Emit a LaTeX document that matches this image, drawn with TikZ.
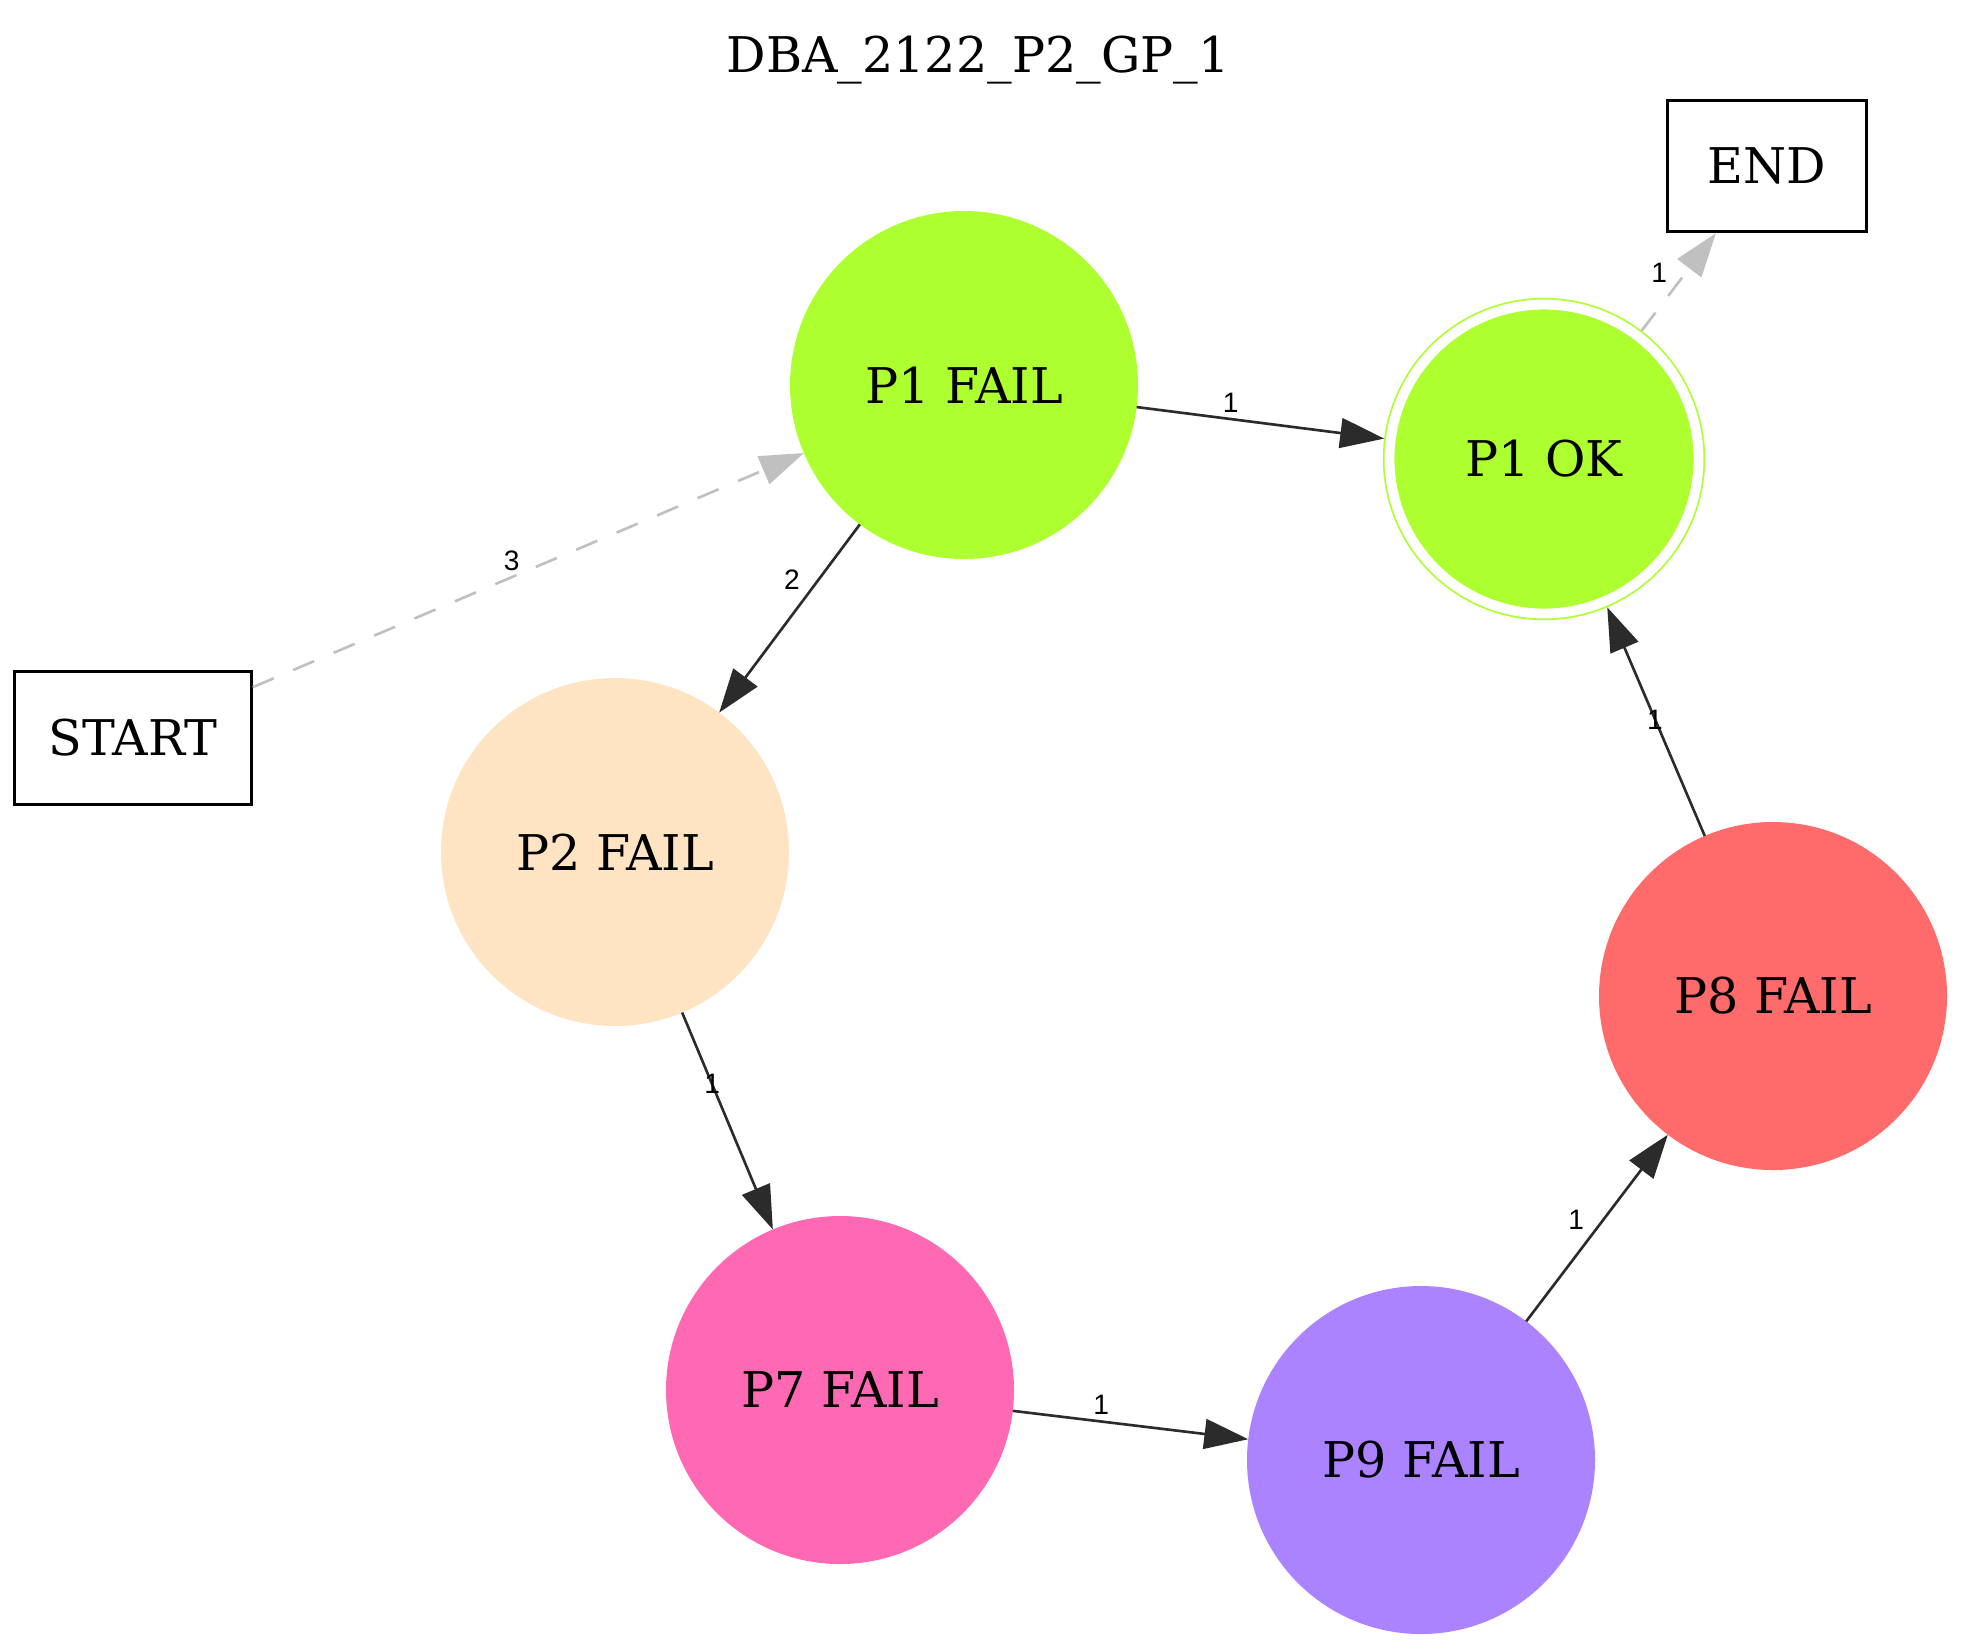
\documentclass[tikz,border=0pt]{standalone}
\usepackage{fontspec}
\setmainfont{DejaVu Serif}
\newfontfamily\lblfont{Liberation Sans}
\usetikzlibrary{automata, positioning, arrows.meta}

\definecolor{pgreen}{HTML}{ADFF2F}
\definecolor{pbisque}{HTML}{FFE4C4}
\definecolor{ppink}{HTML}{FF69B4}
\definecolor{ppurple}{HTML}{AB82FF}
\definecolor{pred}{HTML}{FF6A6A}
\definecolor{edgegray}{HTML}{2B2B2B}
\definecolor{fadegray}{HTML}{C0C0C0}

\tikzset{
    every state/.style={draw=none, inner sep=0pt, outer sep=0pt, minimum size=3.48cm, font=\fontsize{14}{17}\selectfont},
    accepting/.style={draw=pgreen, line width=0.5pt, double=white, double distance=2.8pt, minimum size=3.09cm, outer sep=1.9pt},
    box/.style={draw, rectangle, line width=0.85pt, font=\fontsize{14}{17}\selectfont},
    trans/.style={draw=edgegray, line width=0.75pt, -{Triangle[length=12.5pt, width=8.5pt]}},
    faded/.style={trans, draw=fadegray, dash pattern=on 6.5pt off 6pt},
    lbl/.style={font=\lblfont\fontsize{8}{9.6}\selectfont, inner sep=1.5pt, text=black},
}

\begin{document}
\begin{tikzpicture}
                \useasboundingbox (0, 0) rectangle (19.61, -16.50);
                \node[font=\fontsize{14}{17}\selectfont, anchor=base] (title) at (9.78, -0.72) {DBA\_2122\_P2\_GP\_1};

                \node[state, fill=pgreen] (p1f) at (9.64, -3.85) {P1 FAIL};
                \node[state, accepting, fill=pgreen] (p1ok) at (15.44, -4.59) {P1 OK};
                \node[state, fill=pbisque] (p2f) at (6.15, -8.52) {P2 FAIL};
                \node[state, fill=ppink] (p7f) at (8.40, -13.90) {P7 FAIL};
                \node[state, fill=ppurple] (p9f) at (14.21, -14.60) {P9 FAIL};
                \node[state, fill=pred] (p8f) at (17.73, -9.96) {P8 FAIL};
                \node[box, minimum width=2.365cm, minimum height=1.325cm] (start) at (1.33, -7.38) {START};
                \node[box, minimum width=1.995cm, minimum height=1.315cm] (end) at (17.67, -1.66) {END};

                \draw[faded] (start) -- node[lbl, pos=0.47, above] {3} (p1f);
                \draw[trans] (p1f) -- node[lbl, pos=0.38, above] {1} (p1ok);
                \draw[trans] (p1f) -- node[lbl, pos=0.38, above left] {2} (p2f);
                \draw[trans] (p2f) -- node[lbl, pos=0.33] {1} (p7f);
                \draw[trans] (p7f) -- node[lbl, pos=0.375, above] {1} (p9f);
                \draw[trans] (p9f) -- node[lbl, pos=0.455, above left] {1} (p8f);
                \draw[trans] (p8f) -- node[lbl, pos=0.51] {1} (p1ok);
                \draw[faded] (p1ok) -- node[lbl, pos=0.43, above left] {1} (end);
            \end{tikzpicture}
\end{document}
